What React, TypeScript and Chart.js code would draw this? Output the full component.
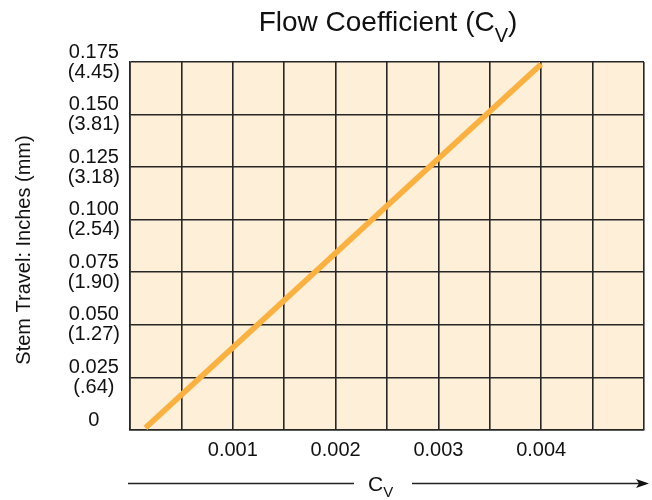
import React, { useEffect, useRef } from "react";
import { Chart, registerables } from "chart.js";

Chart.register(...registerables);

// Line data (Cv vs stem travel in inches)
const cvValues = [0.00015, 0.004];
const travelValues = [0.001, 0.174];

// Axis tick labels
const xTickValues = [0.001, 0.002, 0.003, 0.004];
const xTickLabels = ["0.001", "0.002", "0.003", "0.004"];
const yTickInches = ["0", "0.025", "0.050", "0.075", "0.100", "0.125", "0.150", "0.175"];
const yTickMm = ["", "(.64)", "(1.27)", "(1.90)", "(2.54)", "(3.18)", "(3.81)", "(4.45)"];

const titleMain = "Flow Coefficient (C";
const titleSub = "V";
const titleEnd = ")";
const yTitle = "Stem Travel: Inches (mm)";
const xTitleMain = "C";
const xTitleSub = "V";

const FONT = "'Liberation Sans', Arial, sans-serif";
const BG = "#FEEFD9";
const LINE = "#FBB13F";
const GRID = "#262626";

const decorPlugin = {
  id: "decor",
  beforeDraw(chart: any) {
    const { ctx, chartArea } = chart;
    ctx.save();
    ctx.fillStyle = BG;
    ctx.fillRect(chartArea.left, chartArea.top, chartArea.right - chartArea.left, chartArea.bottom - chartArea.top);
    ctx.restore();
  },
  afterDraw(chart: any) {
    const { ctx, chartArea } = chart;
    ctx.save();
    ctx.fillStyle = "#111";
    ctx.textBaseline = "alphabetic";
    ctx.textAlign = "left";

    // Title with subscript
    const big = `28px ${FONT}`;
    const small = `20px ${FONT}`;
    ctx.font = big;
    const w1 = ctx.measureText(titleMain).width;
    const w3 = ctx.measureText(titleEnd).width;
    ctx.font = small;
    const w2 = ctx.measureText(titleSub).width;
    const total = w1 + w2 + w3;
    const cx = (chartArea.left + chartArea.right) / 2 + 1;
    let x = cx - total / 2;
    ctx.font = big;
    ctx.fillText(titleMain, x, 31);
    x += w1;
    ctx.font = small;
    ctx.fillText(titleSub, x, 42);
    x += w2;
    ctx.font = big;
    ctx.fillText(titleEnd, x, 31);

    // Y axis title
    ctx.save();
    ctx.translate(24, (chartArea.top + chartArea.bottom) / 2 + 4);
    ctx.rotate(-Math.PI / 2);
    ctx.font = `20px ${FONT}`;
    ctx.textAlign = "center";
    ctx.textBaseline = "middle";
    ctx.fillText(yTitle, 0, 0);
    ctx.restore();

    // X axis title with arrow
    const ly = 483.5;
    ctx.strokeStyle = "#222";
    ctx.lineWidth = 1.5;
    ctx.beginPath();
    ctx.moveTo(chartArea.left - 2, ly);
    ctx.lineTo(354, ly);
    ctx.moveTo(412, ly);
    ctx.lineTo(640, ly);
    ctx.stroke();
    ctx.beginPath();
    ctx.moveTo(649, ly);
    ctx.lineTo(636, ly - 4.5);
    ctx.lineTo(639, ly);
    ctx.lineTo(636, ly + 4.5);
    ctx.closePath();
    ctx.fill();

    ctx.font = `21px ${FONT}`;
    ctx.textAlign = "left";
    ctx.fillText(xTitleMain, 368, 491);
    const cw = ctx.measureText(xTitleMain).width;
    ctx.font = `15px ${FONT}`;
    ctx.fillText(xTitleSub, 368 + cw, 497);
    ctx.restore();
  },
};

export default function App() {
  const ref = useRef<HTMLCanvasElement | null>(null);

  useEffect(() => {
    if (!ref.current) return;
    const chart = new Chart(ref.current, {
      type: "line",
      data: {
        datasets: [
          {
            data: cvValues.map((v, i) => ({ x: v, y: travelValues[i] })),
            borderColor: LINE,
            borderWidth: 5.5,
            borderCapStyle: "butt",
            pointRadius: 0,
            fill: false,
            tension: 0,
          },
        ],
      },
      options: {
        animation: false,
        responsive: false,
        layout: { padding: { top: 62, left: 0, right: 5, bottom: 0 } },
        plugins: {
          legend: { display: false },
          title: { display: false },
          tooltip: { enabled: false },
        },
        scales: {
          x: {
            type: "linear",
            min: 0,
            max: 0.005,
            afterFit: (s: any) => {
              s.height = 70;
            },
            grid: { color: GRID, lineWidth: 1.6, drawTicks: false },
            border: { color: GRID, width: 1.6 },
            ticks: {
              stepSize: 0.0005,
              autoSkip: false,
              maxRotation: 0,
              padding: 8,
              color: "#111",
              font: { family: FONT, size: 20 },
              callback: (value: any) => {
                const idx = xTickValues.findIndex((t) => Math.abs(t - Number(value)) < 1e-7);
                return idx >= 0 ? xTickLabels[idx] : "";
              },
            },
          },
          y: {
            type: "linear",
            min: 0,
            max: 0.175,
            afterFit: (s: any) => {
              s.width = 130;
            },
            grid: { color: GRID, lineWidth: 1.6, drawTicks: false },
            border: { color: GRID, width: 1.6 },
            ticks: {
              stepSize: 0.025,
              autoSkip: false,
              padding: 10,
              crossAlign: "center",
              color: "#111",
              font: { family: FONT, size: 20, lineHeight: 1.0 },
              callback: (value: any) => {
                const i = Math.round(Number(value) / 0.025);
                return [yTickInches[i], yTickMm[i]];
              },
            },
          },
        },
      },
      plugins: [decorPlugin],
    } as any);
    return () => chart.destroy();
  }, []);

  return (
    <div style={{ position: "absolute", left: 0, top: 0, width: 652, height: 500, background: "#fff" }}>
      <canvas ref={ref} width={652} height={500} />
    </div>
  );
}
